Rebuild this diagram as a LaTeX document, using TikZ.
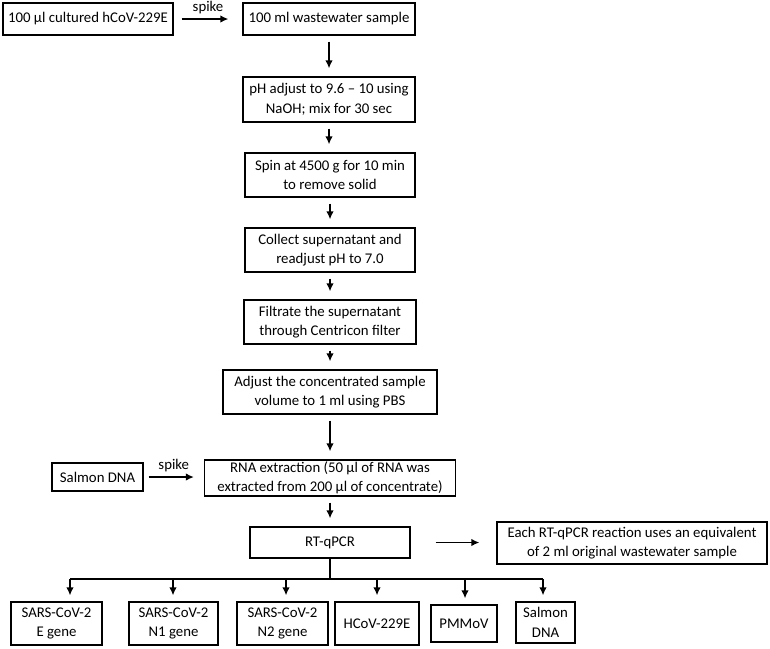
\documentclass[tikz,border=0pt]{standalone}
\usepackage{fontspec}
\setmainfont{Carlito}
\usetikzlibrary{arrows.meta}
\begin{document}
\begin{tikzpicture}[x=1pt,y=-1pt,font=\fontsize{14.8}{19.5}\selectfont,
 box/.style={draw,line width=1.2pt,align=center,inner sep=0pt},
 arr/.style={-{Latex[length=8pt,width=7.5pt]},line width=1.9pt}]
\useasboundingbox (0,0) rectangle (770,648);
\path (88,19) node[box,minimum width=170,minimum height=32] (cult) {100 µl cultured hCoV-229E}
 (329,19) node[box,minimum width=172,minimum height=32] (waste) {100 ml wastewater sample}
 (329,99.5) node[box,minimum width=172,minimum height=45] (ph) {pH adjust to 9.6 – 10 using\\NaOH; mix for 30 sec}
 (330,175) node[box,minimum width=170,minimum height=44] (spin) {Spin at 4500 g for 10 min\\to remove solid}
 (330,250) node[box,minimum width=170,minimum height=44] (collect) {Collect supernatant and\\readjust pH to 7.0}
 (330,322) node[box,minimum width=172,minimum height=44] (filt) {Filtrate the supernatant\\through Centricon filter}
 (330,392) node[box,minimum width=214,minimum height=44] (adj) {Adjust the concentrated sample\\volume to 1 ml using PBS}
 (330,478) node[box,minimum width=251,minimum height=36] (rna) {RNA extraction (50 µl of RNA was\\extracted from 200 µl of concentrate)}
 (97.5,477) node[box,minimum width=91,minimum height=28] (salm) {Salmon DNA}
 (330,542.5) node[box,minimum width=160,minimum height=31] (rt) {RT-qPCR}
 (632,543) node[box,minimum width=270,minimum height=42] (each) {Each RT-qPCR reaction uses an equivalent\\of 2 ml original wastewater sample};
% targets
\path (56.5,623.5) node[box,minimum width=91,minimum height=43] (egene) {SARS-CoV-2\\E gene}
 (173.5,623.5) node[box,minimum width=89,minimum height=43] (nonegene) {SARS-CoV-2\\N1 gene}
 (282.5,623.5) node[box,minimum width=91,minimum height=43] (ntwogene) {SARS-CoV-2\\N2 gene}
 (377,623.5) node[box,minimum width=84,minimum height=43] (hcov) {HCoV-229E}
 (464,623.5) node[box,minimum width=66,minimum height=37] (pmmov) {PMMoV}
 (545.5,622.5) node[box,minimum width=59,minimum height=41] (sdna) {Salmon\\DNA};
\draw[arr,shorten <=8,shorten >=14] (cult) -- node[above=1pt]{spike} (waste);
\draw[arr,shorten <=5,shorten >=10] (salm) -- node[above=1pt]{spike} (salm -| rna.west);
\draw[arr,shorten <=25,shorten >=17] (rt) -- (rt -| each.west);
\foreach \a/\b in {waste/ph, ph/spin, spin/collect, collect/filt, filt/adj, adj/rna, rna/rt}
 \draw[arr,shorten <=6,shorten >=8] (\a.south) -- (\a.south |- \b.north);
\path (70,579) coordinate (b1) (173,579) coordinate (b2) (286,579) coordinate (b3)
 (377,579) coordinate (b4) (465,579) coordinate (b5) (543,579) coordinate (b6);
\draw[line width=1.6pt] (rt.south) -- (rt.south |- b1) (b1) -- (b6);
\foreach \c/\n in {b1/egene, b2/nonegene, b3/ntwogene, b4/hcov, b5/pmmov, b6/sdna}
 \draw[arr,shorten >=6] (\c) -- (\c |- \n.north);
\end{tikzpicture}
\end{document}
